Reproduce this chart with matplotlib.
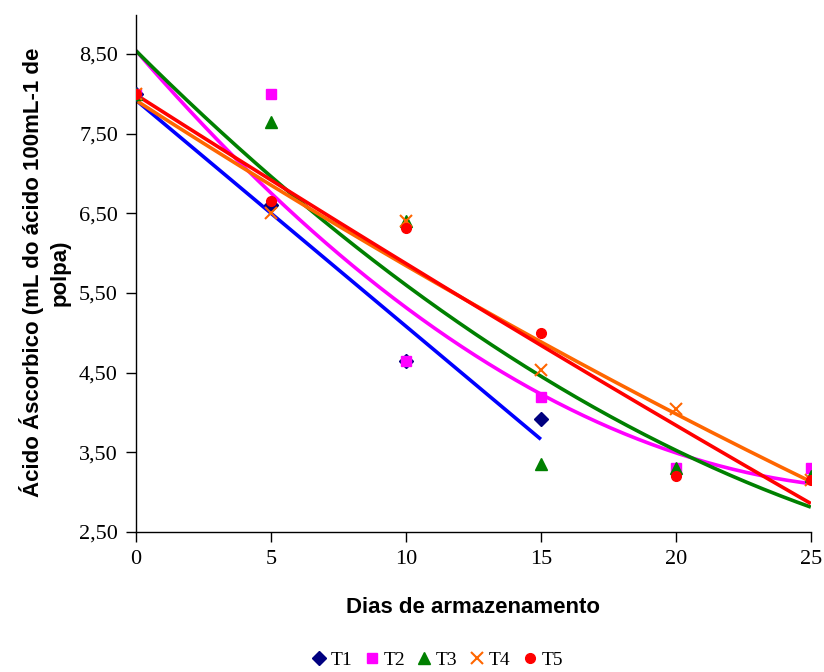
import numpy as np
import matplotlib
matplotlib.use("Agg")
import matplotlib.pyplot as plt
from matplotlib.lines import Line2D

# Storage days and ascorbic acid content per treatment
dias = [0, 5, 10, 15, 20, 25]
t1 = [8.00, 6.60, 4.65, 3.92]          # T1 measured only up to day 15
t2 = [8.00, 8.00, 4.65, 4.20, 3.30, 3.30]
t3 = [8.00, 7.65, 6.40, 3.35, 3.30, 3.20]
t4 = [8.00, 6.50, 6.40, 4.53, 4.04, 3.15]
t5 = [8.00, 6.65, 6.32, 5.00, 3.20, 3.15]

series = [
    ("T1", t1, "D", "#000080", "#0000FF", 1),
    ("T2", t2, "s", "#FF00FF", "#FF00FF", 2),
    ("T3", t3, "^", "#008000", "#008000", 2),
    ("T4", t4, "x", "#FF6600", "#FF6600", 2),
    ("T5", t5, "o", "#FF0000", "#FF0000", 2),
]
yticks = [2.5, 3.5, 4.5, 5.5, 6.5, 7.5, 8.5]
xticks = [0, 5, 10, 15, 20, 25]

serif = ["Liberation Serif", "DejaVu Serif"]
sans = ["Liberation Sans", "DejaVu Sans"]

fig = plt.figure(figsize=(8.24, 6.72), dpi=100)
ax = fig.add_axes([0.165, 0.2083, 0.819, 0.7694])

handles = []
for name, vals, mk, mcol, lcol, order in series:
    x = np.array(dias[:len(vals)], dtype=float)
    y = np.array(vals, dtype=float)
    coef = np.polyfit(x, y, order)
    xs = np.linspace(x.min(), x.max(), 200)
    ax.plot(xs, np.polyval(coef, xs), color=lcol, lw=2.6, zorder=2,
            solid_capstyle="butt")
    if mk == "x":
        ax.plot(x, y, ls="none", marker=mk, color=mcol, ms=9, mew=1.5, zorder=3)
        h = Line2D([], [], ls="none", marker=mk, color=mcol, ms=9, mew=1.5)
    else:
        ms = 8 if mk == "^" else 7
        ax.plot(x, y, ls="none", marker=mk, color=mcol, mec=mcol, ms=ms, zorder=3)
        h = Line2D([], [], ls="none", marker=mk, color=mcol, mec=mcol, ms=ms)
    handles.append((h, name))

ax.set_xlim(0, 25)
ax.set_ylim(2.5, 8.99)
ax.set_xticks(xticks)
ax.set_yticks(yticks)
ax.set_yticklabels([f"{v:.2f}".replace(".", ",") for v in yticks])
ax.set_xticklabels([str(v) for v in xticks])
for lab in ax.get_xticklabels() + ax.get_yticklabels():
    lab.set_fontfamily(serif)
    lab.set_fontsize(16)
ax.tick_params(direction="out", length=7, width=1, pad=6)
for s in ("top", "right"):
    ax.spines[s].set_visible(False)
for s in ("left", "bottom"):
    ax.spines[s].set_linewidth(1)

ax.set_xlabel("Dias de armazenamento", fontfamily=sans, fontweight="bold",
              fontsize=16, labelpad=20)
fig.text(0.0546, 0.5945, "Ácido Áscorbico (mL do ácido 100mL-1 de\npolpa)",
         rotation=90, ha="center", va="center", multialignment="center",
         fontfamily=sans, fontweight="bold", fontsize=16, linespacing=1.36)

fig.legend([h for h, _ in handles], [n for _, n in handles], loc="center",
           bbox_to_anchor=(0.528, 0.018), ncol=5, frameon=False,
           prop={"family": serif, "size": 14}, handletextpad=0.0,
           columnspacing=0.4, handlelength=1.2)

fig.savefig("out.png", dpi=100)
